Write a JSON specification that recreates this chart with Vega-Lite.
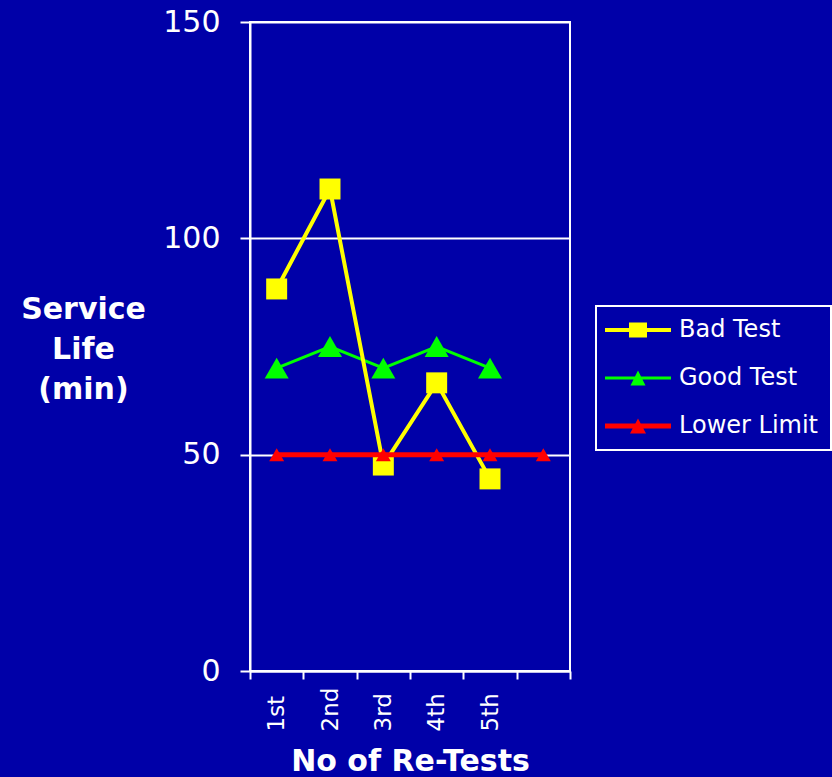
{
  "$schema": "https://vega.github.io/schema/vega-lite/v6.json",
  "width": 320,
  "height": 649,
  "autosize": {"type": "none"},
  "padding": {"left": 250, "top": 22, "right": 262, "bottom": 106},
  "background": "#0000A8",
  "config": {
    "view": {"stroke": "white", "strokeWidth": 2},
    "font": "DejaVu Sans",
    "legend": {"strokeWidth": 2}
  },
  "data": {
    "values": [
      {"test": "1st", "series": "Bad Test", "life": 88.3},
      {"test": "2nd", "series": "Bad Test", "life": 111.4},
      {"test": "3rd", "series": "Bad Test", "life": 47.6},
      {"test": "4th", "series": "Bad Test", "life": 66.6},
      {"test": "5th", "series": "Bad Test", "life": 44.4},
      {"test": "1st", "series": "Good Test", "life": 70},
      {"test": "2nd", "series": "Good Test", "life": 75},
      {"test": "3rd", "series": "Good Test", "life": 70},
      {"test": "4th", "series": "Good Test", "life": 75},
      {"test": "5th", "series": "Good Test", "life": 70},
      {"test": "1st", "series": "Lower Limit", "life": 50},
      {"test": "2nd", "series": "Lower Limit", "life": 50},
      {"test": "3rd", "series": "Lower Limit", "life": 50},
      {"test": "4th", "series": "Lower Limit", "life": 50},
      {"test": "5th", "series": "Lower Limit", "life": 50},
      {"test": "6th", "series": "Lower Limit", "life": 50}
    ]
  },
  "encoding": {
    "x": {
      "field": "test",
      "type": "nominal",
      "scale": {"domain": ["1st", "2nd", "3rd", "4th", "5th", "6th"], "paddingInner": 0, "paddingOuter": 0},
      "axis": {
        "title": "No of Re-Tests",
        "titleFont": "DejaVu Sans",
        "titleFontWeight": "bold",
        "titleFontSize": 30,
        "titleColor": "white",
        "titleY": 105,
        "titleBaseline": "bottom",
        "labelAngle": -90,
        "labelAlign": "left",
        "labelBaseline": "middle",
        "labelPadding": 52,
        "labelFontSize": 23,
        "labelColor": "white",
        "labelFont": "DejaVu Sans",
        "labelExpr": "datum.value == '6th' ? '' : datum.value",
        "tickBand": "extent",
        "tickSize": 8,
        "tickColor": "white",
        "tickWidth": 2,
        "domainColor": "white",
        "domainWidth": 2,
        "grid": false
      }
    },
    "y": {
      "field": "life",
      "type": "quantitative",
      "scale": {"domain": [0, 150], "nice": false},
      "axis": {
        "title": ["Service", "Life", "(min)"],
        "titleAngle": 0,
        "titleAlign": "center",
        "titleX": -167,
        "titleY": 296,
        "titleBaseline": "alphabetic",
        "titleLineHeight": 40,
        "titleFont": "DejaVu Sans",
        "titleFontWeight": "bold",
        "titleFontSize": 30,
        "titleColor": "white",
        "values": [0, 50, 100, 150],
        "labelFont": "DejaVu Sans",
        "labelFontSize": 30,
        "labelColor": "white",
        "labelPadding": 20,
        "tickSize": 10,
        "tickColor": "white",
        "tickWidth": 2,
        "domainColor": "white",
        "domainWidth": 2,
        "grid": true,
        "gridColor": "white",
        "gridWidth": 2,
        "gridOpacity": 1
      }
    }
  },
  "layer": [
    {
      "transform": [{"filter": "datum.series == 'Good Test'"}],
      "mark": {"type": "line", "strokeWidth": 3, "color": "#00FF00"}
    },
    {
      "transform": [{"filter": "datum.series == 'Good Test'"}],
      "mark": {"type": "point", "shape": "triangle-up", "filled": true, "size": 576, "opacity": 1, "color": "#00FF00"}
    },
    {
      "transform": [{"filter": "datum.series == 'Bad Test'"}],
      "mark": {"type": "line", "strokeWidth": 4, "color": "#FFFF00"}
    },
    {
      "transform": [{"filter": "datum.series == 'Bad Test'"}],
      "mark": {"type": "point", "shape": "square", "filled": true, "size": 440, "opacity": 1, "color": "#FFFF00"}
    },
    {
      "transform": [{"filter": "datum.series == 'Lower Limit'"}],
      "mark": {"type": "line", "strokeWidth": 5, "color": "#FF0000"}
    },
    {
      "transform": [{"filter": "datum.series == 'Lower Limit'"}],
      "mark": {"type": "point", "shape": "triangle-up", "filled": true, "size": 225, "opacity": 1, "color": "#FF0000"}
    },
    {
      "transform": [{"filter": "datum.series == 'none'"}],
      "mark": {"type": "point", "filled": true, "opacity": 1},
      "encoding": {
        "color": {
          "field": "series",
          "type": "nominal",
          "scale": {"domain": ["Bad Test", "Good Test", "Lower Limit"], "range": ["#FFFF00", "#00FF00", "#FF0000"]},
          "legend": {
            "orient": "none", "legendX": 346, "legendY": 284, "title": null,
            "strokeColor": "white", "padding": 12,
            "labelColor": "white", "labelFont": "DejaVu Sans", "labelFontSize": 24,
            "symbolSize": 400, "symbolStrokeWidth": 0, "symbolOffset": 18, "labelOffset": 29, "rowPadding": 24
          }
        },
        "shape": {
          "field": "series",
          "type": "nominal",
          "scale": {
            "domain": ["Bad Test", "Good Test", "Lower Limit"],
            "range": [
              "M-3.3,-0.2H3.3V0.2H-3.3Z M-0.9,-0.75H0.9V0.75H-0.9Z",
              "M-3.3,-0.15H3.3V0.15H-3.3Z M0,-0.75L0.75,0.75H-0.75Z",
              "M-3.3,-0.25H3.3V0.25H-3.3Z M0,-0.75L0.8,0.75H-0.8Z"
            ]
          },
          "legend": {
            "orient": "none", "legendX": 346, "legendY": 284, "title": null,
            "strokeColor": "white", "padding": 12,
            "labelColor": "white", "labelFont": "DejaVu Sans", "labelFontSize": 24,
            "symbolSize": 400, "symbolStrokeWidth": 0, "symbolOffset": 18, "labelOffset": 29, "rowPadding": 24
          }
        }
      }
    }
  ]
}
